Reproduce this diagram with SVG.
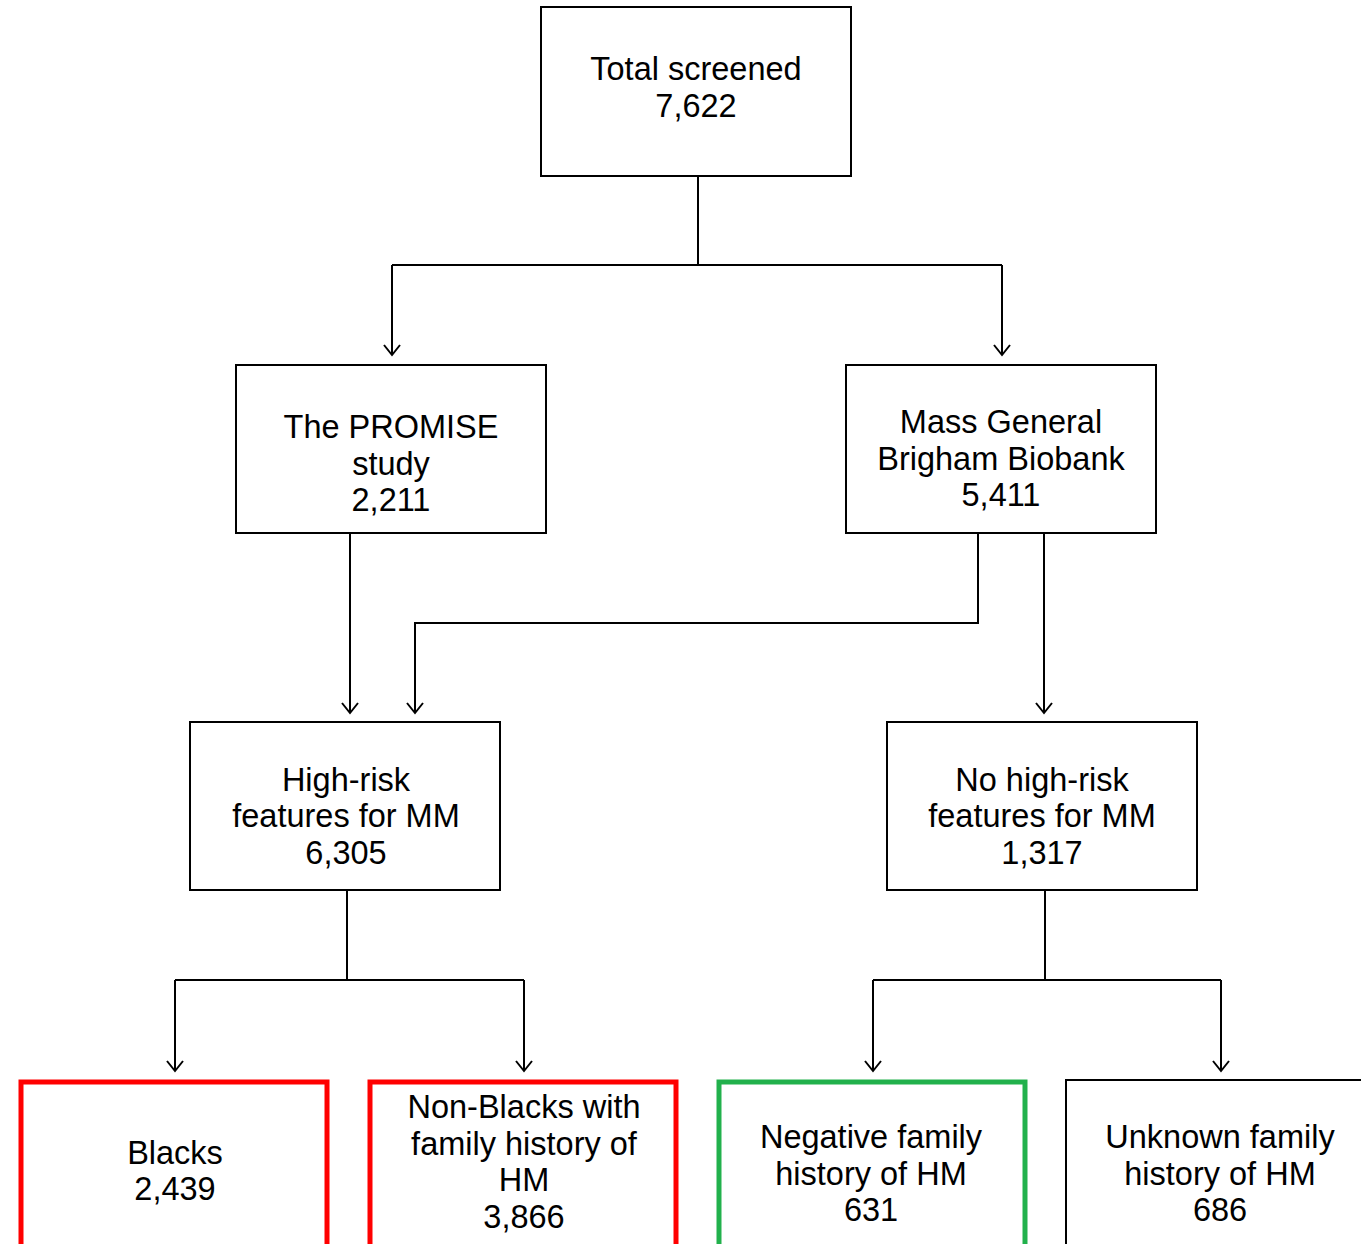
<svg xmlns="http://www.w3.org/2000/svg" width="1361" height="1244" viewBox="0 0 1361 1244">
<defs>
<style>
.box{fill:#fff;stroke:#000;stroke-width:2}
.red{fill:#fff;stroke:#ff0000;stroke-width:5}
.green{fill:#fff;stroke:#22b14c;stroke-width:5}
.t{font-family:"Liberation Sans",Arial,sans-serif;font-size:32.5px;fill:#000;text-anchor:middle}
.c{fill:none;stroke:#000;stroke-width:2}
</style>
<marker id="ah" viewBox="0 0 14 20" refX="12" refY="10" markerWidth="14" markerHeight="20" markerUnits="userSpaceOnUse" orient="auto">
<polyline points="2,2 12,10 2,18" fill="none" stroke="#000" stroke-width="2"/>
</marker>
</defs>
<rect width="1361" height="1244" fill="#fff"/>
<g id="connectors">
<polyline class="c" points="698,176 698,265"/>
<polyline class="c" points="392,265 1002,265"/>
<polyline class="c" points="392,265 392,355" marker-end="url(#ah)"/>
<polyline class="c" points="1002,265 1002,355" marker-end="url(#ah)"/>
<polyline class="c" points="350,533 350,713" marker-end="url(#ah)"/>
<polyline class="c" points="978,533 978,623 415,623 415,713" marker-end="url(#ah)"/>
<polyline class="c" points="1044,533 1044,713" marker-end="url(#ah)"/>
<polyline class="c" points="347,890 347,980"/>
<polyline class="c" points="175,980 524,980"/>
<polyline class="c" points="175,980 175,1071" marker-end="url(#ah)"/>
<polyline class="c" points="524,980 524,1071" marker-end="url(#ah)"/>
<polyline class="c" points="1045,890 1045,980"/>
<polyline class="c" points="873,980 1221,980"/>
<polyline class="c" points="873,980 873,1071" marker-end="url(#ah)"/>
<polyline class="c" points="1221,980 1221,1071" marker-end="url(#ah)"/>
</g>
<g id="total">
<rect class="box" x="541" y="7" width="310" height="169"/>
<text class="t" x="696" y="80">Total screened</text>
<text class="t" x="696" y="117">7,622</text>
</g>
<g id="promise">
<rect class="box" x="236" y="365" width="310" height="168"/>
<text class="t" x="391" y="438">The PROMISE</text>
<text class="t" x="391" y="475">study</text>
<text class="t" x="391" y="511">2,211</text>
</g>
<g id="mgb">
<rect class="box" x="846" y="365" width="310" height="168"/>
<text class="t" x="1001" y="433">Mass General</text>
<text class="t" x="1001" y="470">Brigham Biobank</text>
<text class="t" x="1001" y="506">5,411</text>
</g>
<g id="highrisk">
<rect class="box" x="190" y="722" width="310" height="168"/>
<text class="t" x="346" y="791">High-risk</text>
<text class="t" x="346" y="827">features for MM</text>
<text class="t" x="346" y="864">6,305</text>
</g>
<g id="nohighrisk">
<rect class="box" x="887" y="722" width="310" height="168"/>
<text class="t" x="1042" y="791">No high-risk</text>
<text class="t" x="1042" y="827">features for MM</text>
<text class="t" x="1042" y="864">1,317</text>
</g>
<g id="blacks">
<rect class="red" x="21" y="1082" width="306" height="170"/>
<text class="t" x="175" y="1164">Blacks</text>
<text class="t" x="175" y="1200">2,439</text>
</g>
<g id="nonblacks">
<rect class="red" x="370" y="1082" width="306" height="170"/>
<text class="t" x="524" y="1118">Non-Blacks with</text>
<text class="t" x="524" y="1155">family history of</text>
<text class="t" x="524" y="1191">HM</text>
<text class="t" x="524" y="1228">3,866</text>
</g>
<g id="negative">
<rect class="green" x="719" y="1082" width="306" height="170"/>
<text class="t" x="871" y="1148">Negative family</text>
<text class="t" x="871" y="1185">history of HM</text>
<text class="t" x="871" y="1221">631</text>
</g>
<g id="unknown">
<rect class="box" x="1066" y="1080" width="310" height="172"/>
<text class="t" x="1220" y="1148">Unknown family</text>
<text class="t" x="1220" y="1185">history of HM</text>
<text class="t" x="1220" y="1221">686</text>
</g>
</svg>
